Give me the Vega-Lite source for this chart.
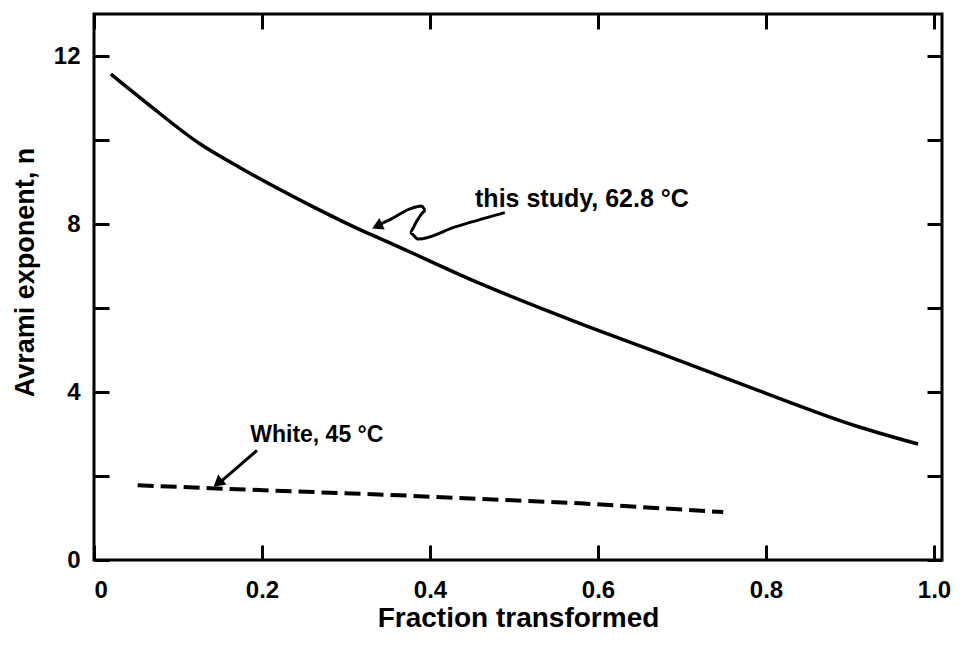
{
  "$schema": "https://vega.github.io/schema/vega-lite/v6.json",
  "width": 848,
  "height": 546,
  "autosize": "none",
  "padding": {"left": 94, "top": 14, "right": 23, "bottom": 94},
  "background": "white",
  "config": {
    "view": {"stroke": "black", "strokeWidth": 3},
    "font": "Liberation Sans",
    "axis": {
      "domain": false,
      "grid": false,
      "tickColor": "black",
      "tickWidth": 3,
      "tickSize": -15,
      "labelFont": "Liberation Sans",
      "labelFontWeight": "bold",
      "labelFontSize": 24,
      "labelColor": "black",
      "titleFont": "Liberation Sans",
      "titleFontWeight": "bold",
      "titleFontSize": 27,
      "titleColor": "black"
    }
  },
  "datasets": {
    "study": [
      {"f": 0.020, "n": 11.57},
      {"f": 0.064, "n": 10.86},
      {"f": 0.126, "n": 9.91},
      {"f": 0.174, "n": 9.34},
      {"f": 0.254, "n": 8.48},
      {"f": 0.325, "n": 7.79},
      {"f": 0.340, "n": 7.66},
      {"f": 0.460, "n": 6.58},
      {"f": 0.579, "n": 5.63},
      {"f": 0.674, "n": 4.92},
      {"f": 0.781, "n": 4.11},
      {"f": 0.912, "n": 3.16},
      {"f": 0.981, "n": 2.76}
    ],
    "white": [
      {"f": 0.052, "n": 1.78},
      {"f": 0.138, "n": 1.71},
      {"f": 0.364, "n": 1.54},
      {"f": 0.579, "n": 1.35},
      {"f": 0.749, "n": 1.14}
    ],
    "leaders": [
      {"id": "study", "o": 1, "f": 0.489, "n": 8.27},
      {"id": "study", "o": 2, "f": 0.430, "n": 7.93},
      {"id": "study", "o": 3, "f": 0.386, "n": 7.64},
      {"id": "study", "o": 4, "f": 0.376, "n": 7.80},
      {"id": "study", "o": 5, "f": 0.384, "n": 8.06},
      {"id": "study", "o": 6, "f": 0.395, "n": 8.32},
      {"id": "study", "o": 7, "f": 0.390, "n": 8.43},
      {"id": "study", "o": 8, "f": 0.376, "n": 8.36},
      {"id": "study", "o": 9, "f": 0.354, "n": 8.12},
      {"id": "study", "o": 10, "f": 0.336, "n": 7.95},
      {"id": "white", "o": 1, "f": 0.194, "n": 2.61},
      {"id": "white", "o": 2, "f": 0.150, "n": 1.85}
    ]
  },
  "layer": [
    {
      "data": {"name": "study"},
      "mark": {"type": "line", "color": "black", "strokeWidth": 3.5, "interpolate": "monotone"},
      "encoding": {
        "x": {
          "field": "f", "type": "quantitative",
          "scale": {"domain": [0, 1.0095], "nice": false},
          "axis": {
            "orient": "bottom",
            "values": [0, 0.2, 0.4, 0.6, 0.8, 1.0],
            "labelExpr": "datum.value === 0 ? '0' : format(datum.value, '.1f')",
            "labelPadding": 33,
            "title": "Fraction transformed",
            "titleFontSize": 28,
            "titlePadding": 2
          }
        },
        "y": {
          "field": "n", "type": "quantitative",
          "scale": {"domain": [0, 13], "nice": false},
          "axis": {
            "orient": "left",
            "values": [0, 2, 4, 6, 8, 10, 12],
            "labelExpr": "datum.value % 4 === 0 ? datum.label : ''",
            "labelPadding": 29,
            "title": "Avrami exponent, n",
            "titleX": -69,
            "titleY": 258,
            "titleBaseline": "middle"
          }
        }
      }
    },
    {
      "data": {"name": "white"},
      "mark": {"type": "line", "color": "black", "strokeWidth": 4, "strokeDash": [16, 7]},
      "encoding": {
        "x": {
          "field": "f", "type": "quantitative",
          "axis": {"orient": "top", "values": [0, 0.2, 0.4, 0.6, 0.8, 1.0], "labels": false, "title": null}
        },
        "y": {
          "field": "n", "type": "quantitative",
          "axis": {"orient": "right", "values": [0, 2, 4, 6, 8, 10, 12], "labels": false, "title": null}
        }
      }
    },
    {
      "data": {"name": "leaders"},
      "mark": {"type": "line", "color": "black", "strokeWidth": 3, "interpolate": "monotone"},
      "encoding": {
        "x": {"field": "f", "type": "quantitative", "axis": null},
        "y": {"field": "n", "type": "quantitative", "axis": null},
        "detail": {"field": "id"},
        "order": {"field": "o"}
      }
    },
    {
      "data": {"values": [{"f": 0.337, "n": 7.95}]},
      "mark": {"type": "point", "shape": "triangle-up", "filled": true, "color": "black", "opacity": 1, "size": 160, "angle": 245},
      "encoding": {
        "x": {"field": "f", "type": "quantitative", "axis": null},
        "y": {"field": "n", "type": "quantitative", "axis": null}
      }
    },
    {
      "data": {"values": [{"f": 0.1476, "n": 1.83}]},
      "mark": {"type": "point", "shape": "triangle-up", "filled": true, "color": "black", "opacity": 1, "size": 170, "angle": 230},
      "encoding": {
        "x": {"field": "f", "type": "quantitative", "axis": null},
        "y": {"field": "n", "type": "quantitative", "axis": null}
      }
    },
    {
      "data": {"values": [{"text": "this study, 62.8 °C", "f": 0.4536, "n": 8.6}]},
      "mark": {"type": "text", "align": "left", "baseline": "middle", "font": "Liberation Sans", "fontWeight": "bold", "fontSize": 25, "color": "black"},
      "encoding": {
        "x": {"field": "f", "type": "quantitative", "axis": null},
        "y": {"field": "n", "type": "quantitative", "axis": null},
        "text": {"field": "text"}
      }
    },
    {
      "data": {"values": [{"text": "White, 45 °C", "f": 0.186, "n": 2.97}]},
      "mark": {"type": "text", "align": "left", "baseline": "middle", "font": "Liberation Sans", "fontWeight": "bold", "fontSize": 23, "color": "black"},
      "encoding": {
        "x": {"field": "f", "type": "quantitative", "axis": null},
        "y": {"field": "n", "type": "quantitative", "axis": null},
        "text": {"field": "text"}
      }
    }
  ],
  "resolve": {"axis": {"x": "independent", "y": "independent"}}
}
